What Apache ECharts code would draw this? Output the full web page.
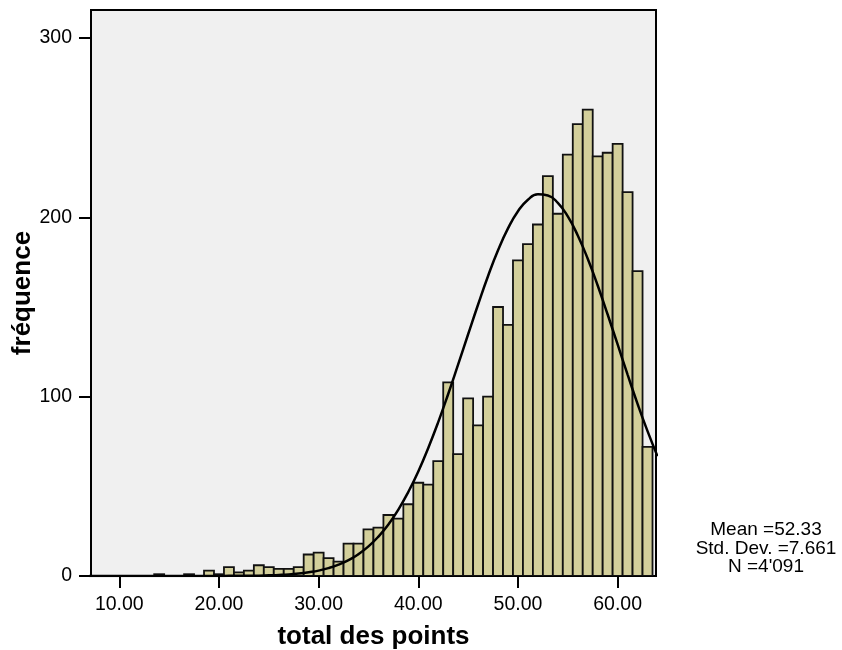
<!DOCTYPE html>
<html><head><meta charset="utf-8">
<script src="https://cdn.jsdelivr.net/npm/echarts@6/dist/echarts.min.js"></script>
<style>html,body{margin:0;padding:0;background:#fff}#chart{width:842px;height:650px}</style>
</head><body><div id="chart"></div>
<script>
// Histogram bins (centres) and frequencies
const binCenters = [14,15,16,17,18,19,20,21,22,23,24,25,26,27,28,29,30,31,32,33,34,35,36,37,38,39,40,41,42,43,44,45,46,47,48,49,50,51,52,53,54,55,56,57,58,59,60,61,62,63];
const binCounts  = [1,0,0,1,0,3,1,5,2,3,6,5,4,4,5,12,13,10,8,18,18,26,27,34,32,40,52,51,64,108,68,99,84,100,150,140,176,185,196,223,202,235,252,260,234,236,241,214,170,72];
// Normal curve overlay
const curveX = [7,8,9,10,11,12,13,14,15,16,17,18,19,20,21,22,23,24,25,26,27,28,29,30,31,32,33,34,35,36,37,38,39,40,41,42,43,44,45,46,47,48,49,50,51,52,53,54,55,56,57,58,59,60,61,62,63,64];
const curveY = [0,0,0,0,0,0,0,0,0,0,0,0,0,0,0.1,0.1,0.1,0.2,0.4,0.6,0.9,1.4,2.1,3.0,4.4,6.3,8.8,12.2,16.5,22.0,28.7,37.0,46.9,58.3,71.4,85.8,101.5,118.0,134.8,151.4,167.3,181.6,193.8,203.4,209.8,212.8,212.2,208.0,200.5,189.9,176.9,162.0,145.8,129.1,112.3,96.0,80.8,66.8];
const xTickValues = [10,20,30,40,50,60];
const yTickValues = [0,100,200,300];
const statLines = ['Mean =52.33', 'Std. Dev. =7.661', "N =4'091"];
const xAxisTitle = 'total des points';
const yAxisTitle = 'fréquence';

const BIN_WIDTH = 1;
const FONT = '"Liberation Sans", Arial, sans-serif';

const chart = echarts.init(document.getElementById('chart'), null, {renderer: 'canvas'});
chart.setOption({
  animation: false,
  backgroundColor: '#ffffff',
  grid: {
    left: 91, right: 186, top: 10, bottom: 74,
    containLabel: false, outerBoundsMode: 'none',
    show: true, backgroundColor: '#f0f0f0', borderColor: '#000', borderWidth: 2
  },
  xAxis: {
    type: 'value', min: 7.16, max: 63.85,
    name: xAxisTitle, nameLocation: 'middle', nameGap: 48, nameMoveOverlap: false,
    nameTextStyle: {fontFamily: FONT, fontWeight: 'bold', fontSize: 26, color: '#000'},
    axisLine: {show: true, onZero: false, lineStyle: {color: '#000', width: 2}},
    axisTick: {show: true, length: 12, inside: false, customValues: xTickValues, lineStyle: {color: '#000', width: 2}},
    axisLabel: {customValues: xTickValues, margin: 19, fontFamily: FONT, fontSize: 19.5, color: '#000',
      formatter: v => Number(v).toFixed(2)},
    splitLine: {show: false}
  },
  yAxis: {
    type: 'value', min: 0, max: 315.6,
    name: yAxisTitle, nameLocation: 'middle', nameGap: 55, nameMoveOverlap: false,
    nameTextStyle: {fontFamily: FONT, fontWeight: 'bold', fontSize: 26, color: '#000'},
    axisLine: {show: true, lineStyle: {color: '#000', width: 2}},
    axisTick: {show: true, length: 12, inside: false, customValues: yTickValues, lineStyle: {color: '#000', width: 2}},
    axisLabel: {customValues: yTickValues, margin: 19, fontFamily: FONT, fontSize: 19.5, color: '#000'},
    splitLine: {show: false}
  },
  graphic: [{
    type: 'text', x: 766, y: 548.5, z: 10,
    style: {
      text: statLines.join('\n'), align: 'center', verticalAlign: 'middle',
      lineHeight: 18.3, fontFamily: FONT, fontSize: 19, fill: '#000'
    }
  }],
  series: [{
    type: 'custom',
    clip: true,
    data: binCenters.map((c, i) => [c, binCounts[i]]),
    encode: {x: 0, y: 1},
    renderItem: function (params, api) {
      const c = api.value(0), v = api.value(1);
      if (!v) return null;
      const p0 = api.coord([c - BIN_WIDTH / 2, v]);
      const p1 = api.coord([c + BIN_WIDTH / 2, 0]);
      return {
        type: 'rect',
        shape: {x: p0[0], y: p0[1], width: p1[0] - p0[0], height: p1[1] - p0[1]},
        style: {fill: '#d3cf9b', stroke: '#111', lineWidth: 1.8}
      };
    },
    z: 2
  }, {
    type: 'line',
    data: curveX.map((x, i) => [x, curveY[i]]),
    showSymbol: false, symbol: 'none', smooth: true, clip: true,
    lineStyle: {color: '#000', width: 2.5},
    z: 3
  }]
});
</script>
</body></html>
